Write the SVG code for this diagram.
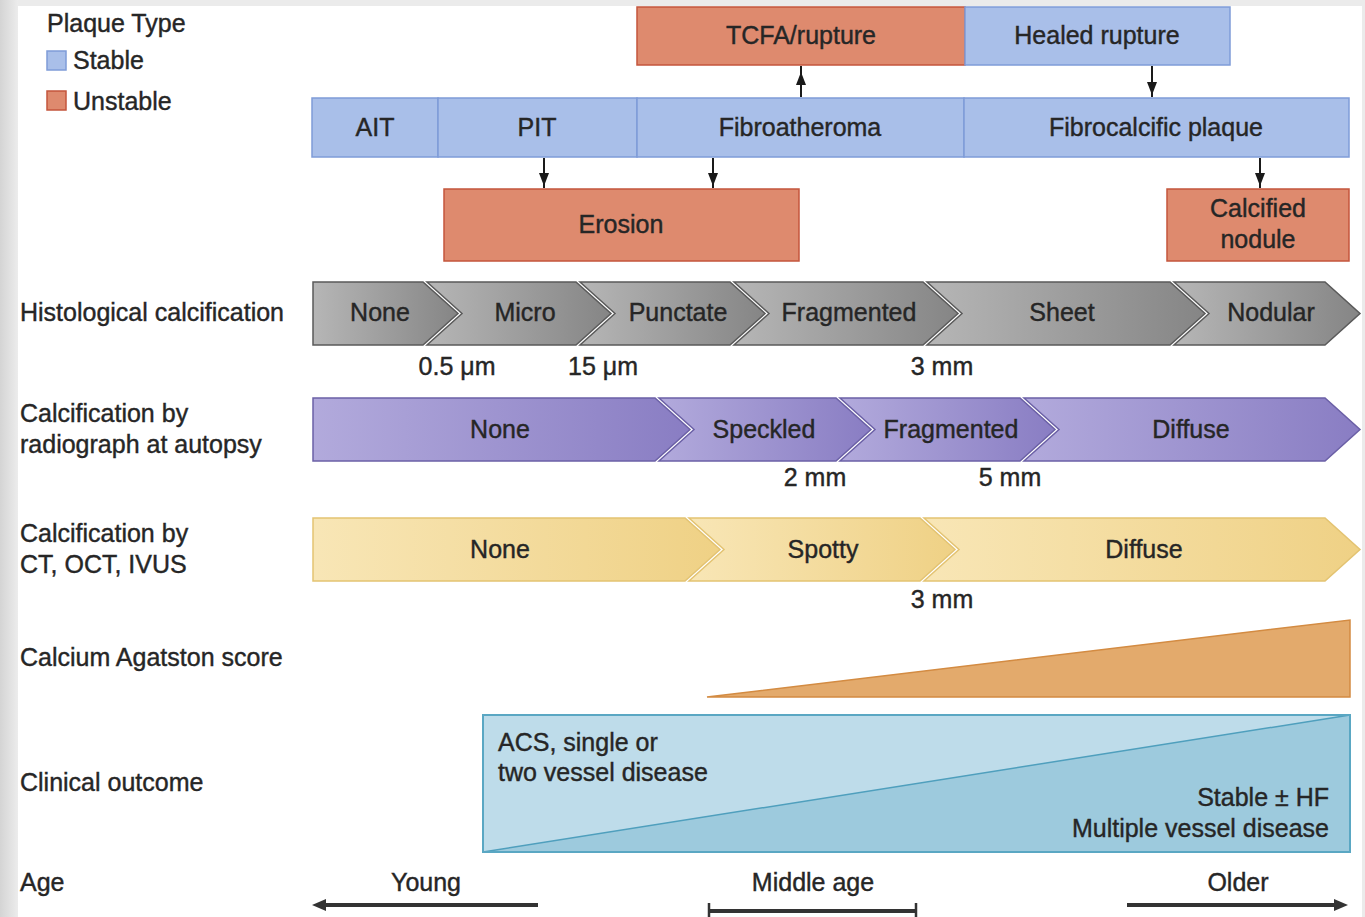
<svg xmlns="http://www.w3.org/2000/svg" width="1365" height="917" viewBox="0 0 1365 917">
<style>
text{font-family:"Liberation Sans",Arial,sans-serif;font-size:25px;fill:#262626;stroke:#262626;stroke-width:0.4}
.c{text-anchor:middle}
.r{text-anchor:end}
.stable{fill:#a9bfe9;stroke:#7f9cd8;stroke-width:1.5}
.unstable{fill:#de8a6e;stroke:#c4553d;stroke-width:1.5}
.histo{fill:url(#gGray);stroke:#5a5a5a;stroke-width:1.5}
.radio{fill:url(#gPurple);stroke:#6b60a6;stroke-width:1.5}
.ct{fill:url(#gYellow);stroke:#e3c372;stroke-width:1.5}
.conn{stroke:#1a1a1a;stroke-width:2;fill:none}
.head{fill:#1a1a1a}
.age{stroke:#333;stroke-width:4;fill:none}
</style>
<defs>
<linearGradient id="gGray" x1="0" y1="0" x2="1" y2="0"><stop offset="0" stop-color="#b6b6b6"/><stop offset="1" stop-color="#858585"/></linearGradient>
<linearGradient id="gPurple" x1="0" y1="0" x2="1" y2="0"><stop offset="0" stop-color="#b2aadc"/><stop offset="1" stop-color="#897dc3"/></linearGradient>
<linearGradient id="gYellow" x1="0" y1="0" x2="1" y2="0"><stop offset="0" stop-color="#f8e6b6"/><stop offset="1" stop-color="#efd185"/></linearGradient>
<linearGradient id="gEdge" x1="0" y1="0" x2="1" y2="0"><stop offset="0" stop-color="#d4d4d4"/><stop offset="1" stop-color="#ececec"/></linearGradient>
</defs>
<rect x="0" y="0" width="1365" height="917" fill="#ebebeb"/>
<rect x="0" y="0" width="18" height="917" fill="url(#gEdge)"/>
<rect x="18" y="6" width="1344" height="911" fill="#ffffff"/>

<g id="legend">
<text x="47" y="32">Plaque Type</text>
<rect x="47" y="51" width="19" height="19" class="stable"/>
<text x="73" y="69">Stable</text>
<rect x="47" y="91" width="19" height="19" class="unstable"/>
<text x="73" y="110">Unstable</text>
</g>

<g id="row-labels">
<text x="20" y="321">Histological calcification</text>
<text x="20" y="422">Calcification by</text>
<text x="20" y="453">radiograph at autopsy</text>
<text x="20" y="542">Calcification by</text>
<text x="20" y="573">CT, OCT, IVUS</text>
<text x="20" y="666">Calcium Agatston score</text>
<text x="20" y="791">Clinical outcome</text>
<text x="20" y="891">Age</text>
</g>

<g id="tcfa"><rect x="637" y="7" width="328" height="58" class="unstable"/><text x="801" y="44" class="c">TCFA/rupture</text></g>
<g id="healed"><rect x="965" y="7" width="265" height="58" class="stable"/><text x="1097" y="44" class="c">Healed rupture</text></g>
<g id="ait"><rect x="312" y="98" width="126" height="59" class="stable"/><text x="375" y="136" class="c">AIT</text></g>
<g id="pit"><rect x="438" y="98" width="199" height="59" class="stable"/><text x="537" y="136" class="c">PIT</text></g>
<g id="fibroatheroma"><rect x="637" y="98" width="327" height="59" class="stable"/><text x="800" y="136" class="c">Fibroatheroma</text></g>
<g id="fibrocalcific"><rect x="964" y="98" width="385" height="59" class="stable"/><text x="1156" y="136" class="c">Fibrocalcific plaque</text></g>
<g id="erosion"><rect x="444" y="189" width="355" height="72" class="unstable"/><text x="621" y="233" class="c">Erosion</text></g>
<g id="calcified-nodule"><rect x="1167" y="189" width="182" height="72" class="unstable"/><text x="1258" y="217" class="c">Calcified</text><text x="1258" y="248" class="c">nodule</text></g>

<g id="connectors">
<line x1="801" y1="97" x2="801" y2="66" class="conn"/><polygon points="801,72 796,85 806,85" class="head"/>
<line x1="1152" y1="66" x2="1152" y2="97" class="conn"/><polygon points="1152,95 1147,82 1157,82" class="head"/>
<line x1="544" y1="158" x2="544" y2="188" class="conn"/><polygon points="544,186 539,173 549,173" class="head"/>
<line x1="713" y1="158" x2="713" y2="188" class="conn"/><polygon points="713,186 708,173 718,173" class="head"/>
<line x1="1260" y1="158" x2="1260" y2="188" class="conn"/><polygon points="1260,186 1255,173 1265,173" class="head"/>
</g>

<g id="histological">
<polygon class="histo" points="313,282 423,282 458,313.5 423,345 313,345"/>
<polygon class="histo" points="427,282 576,282 611,313.5 576,345 427,345 462,313.5"/>
<polygon class="histo" points="580,282 730,282 765,313.5 730,345 580,345 615,313.5"/>
<polygon class="histo" points="734,282 923,282 958,313.5 923,345 734,345 769,313.5"/>
<polygon class="histo" points="927,282 1170,282 1205,313.5 1170,345 927,345 962,313.5"/>
<polygon class="histo" points="1174,282 1325,282 1360,313.5 1325,345 1174,345 1209,313.5"/>
<text x="380" y="321" class="c">None</text>
<text x="525" y="321" class="c">Micro</text>
<text x="678" y="321" class="c">Punctate</text>
<text x="849" y="321" class="c">Fragmented</text>
<text x="1062" y="321" class="c">Sheet</text>
<text x="1271" y="321" class="c">Nodular</text>
<text x="457" y="375" class="c">0.5 μm</text>
<text x="603" y="375" class="c">15 μm</text>
<text x="942" y="375" class="c">3 mm</text>
</g>

<g id="radiograph">
<polygon class="radio" points="313,398 655,398 690,429.5 655,461 313,461"/>
<polygon class="radio" points="659,398 836,398 871,429.5 836,461 659,461 694,429.5"/>
<polygon class="radio" points="840,398 1020,398 1055,429.5 1020,461 840,461 875,429.5"/>
<polygon class="radio" points="1024,398 1325,398 1360,429.5 1325,461 1024,461 1059,429.5"/>
<text x="500" y="438" class="c">None</text>
<text x="764" y="438" class="c">Speckled</text>
<text x="951" y="438" class="c">Fragmented</text>
<text x="1191" y="438" class="c">Diffuse</text>
<text x="815" y="486" class="c">2 mm</text>
<text x="1010" y="486" class="c">5 mm</text>
</g>

<g id="ct">
<polygon class="ct" points="313,518 685,518 720,549.5 685,581 313,581"/>
<polygon class="ct" points="689,518 920,518 955,549.5 920,581 689,581 724,549.5"/>
<polygon class="ct" points="924,518 1325,518 1360,549.5 1325,581 924,581 959,549.5"/>
<text x="500" y="558" class="c">None</text>
<text x="823" y="558" class="c">Spotty</text>
<text x="1144" y="558" class="c">Diffuse</text>
<text x="942" y="608" class="c">3 mm</text>
</g>

<g id="agatston">
<polygon points="707,697 1350,620 1350,697" fill="#e3aa6c" stroke="#d38b42" stroke-width="1.5"/>
</g>

<g id="clinical">
<rect x="483" y="715" width="867" height="137" fill="#bedcea"/>
<polygon points="483,852 1350,715 1350,852" fill="#9dcadd"/>
<line x1="483" y1="852" x2="1350" y2="715" stroke="#4f9fbd" stroke-width="1.5"/>
<rect x="483" y="715" width="867" height="137" fill="none" stroke="#5aa7c3" stroke-width="2"/>
<text x="498" y="751">ACS, single or</text>
<text x="498" y="781">two vessel disease</text>
<text x="1329" y="806" class="r">Stable ± HF</text>
<text x="1329" y="837" class="r">Multiple vessel disease</text>
</g>

<g id="age">
<text x="426" y="891" class="c">Young</text>
<line x1="538" y1="905" x2="322" y2="905" class="age"/>
<polygon points="312,905 326,899 326,911" fill="#333"/>
<text x="813" y="891" class="c">Middle age</text>
<line x1="708" y1="911" x2="917" y2="911" class="age"/>
<line x1="709" y1="903" x2="709" y2="917" stroke="#333" stroke-width="2.5"/>
<line x1="916" y1="903" x2="916" y2="917" stroke="#333" stroke-width="2.5"/>
<text x="1238" y="891" class="c">Older</text>
<line x1="1127" y1="905" x2="1338" y2="905" class="age"/>
<polygon points="1348,905 1334,899 1334,911" fill="#333"/>
</g>
</svg>
